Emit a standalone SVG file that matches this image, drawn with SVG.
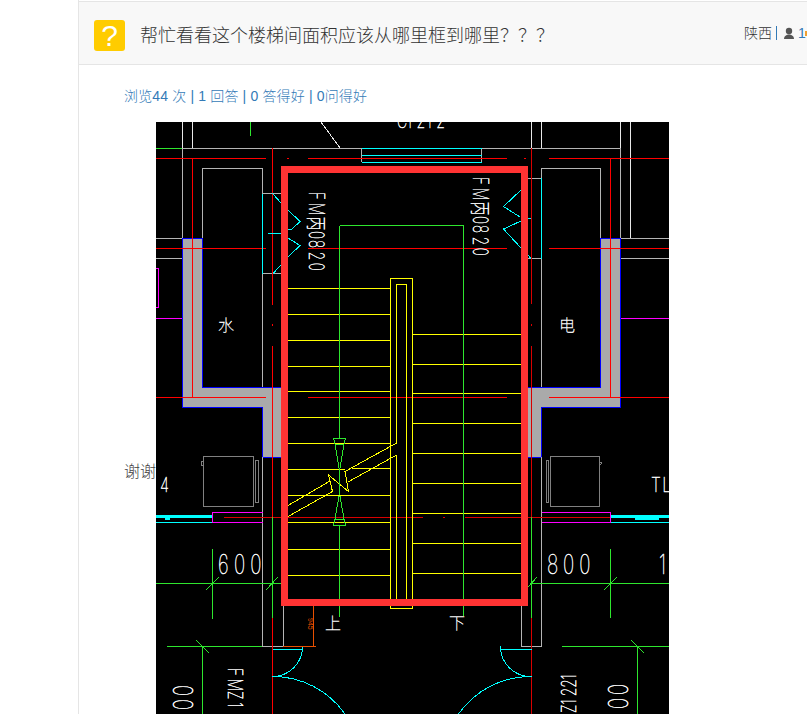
<svg xmlns="http://www.w3.org/2000/svg" width="807" height="714" viewBox="0 0 807 714">
<style>
.ui{font-family:"Liberation Sans","Noto Sans CJK SC",sans-serif;font-weight:300}
.cad{font-family:Inter,"Noto Sans CJK SC",sans-serif;font-weight:100;fill:#fff;stroke:#fff;stroke-width:.5}
.cjk{font-family:"Noto Sans CJK SC",sans-serif;fill:#fff;font-weight:100;stroke:#fff;stroke-width:.3}
.l{fill:none;stroke-width:1;shape-rendering:crispEdges}
.gr{stroke:#b4b4b4}.wh{stroke:#e8e8e8}.re{stroke:#f00}.dr{stroke:#d80000}.ye{stroke:#ff0}.gn{stroke:#2ee62e}.cy{stroke:#0ff}.mg{stroke:#f0f}.ap{stroke:#808080}.or{stroke:#e85000}
</style>
<defs><clipPath id="c"><rect x="156" y="122" width="513" height="592"/></clipPath></defs>
<rect width="807" height="714" fill="#fff"/>
<g id="header">
<rect x="79" y="1" width="728" height="64" fill="#f8f8f8"/>
<path d="M78.500 0V714M79 1.500H807M79 64.500H807" fill="none" stroke="#e5e5e5"/>
<rect x="94" y="20" width="31" height="31" rx="3" fill="#fc0"/>
<text x="109.500" y="46" text-anchor="middle" font-size="30" fill="#fff" font-family="Liberation Sans,sans-serif">?</text>
<text x="140" y="42" font-size="18" fill="#333" font-family="Noto Sans CJK SC,sans-serif" font-weight="300">帮忙看看这个楼梯间面积应该从哪里框到哪里？？？</text>
<text class="ui" x="744" y="38" font-size="14" fill="#333">陕西</text>
<rect x="776" y="26" width="1" height="14" fill="#337ab7"/>
<circle cx="789" cy="31" r="3.200" fill="#555"/>
<path d="M784 39c0-6 10-6 10 0z" fill="#555"/>
<text x="798" y="38" font-size="14" fill="#337ab7" font-family="Liberation Sans,sans-serif">1</text>
<rect x="805" y="31" width="2" height="5" fill="#f0a030"/>
</g>
<text id="stats" class="ui" x="124" y="101" font-size="14" fill="#337ab7" textLength="243" lengthAdjust="spacing">浏览44 次 | 1 回答 | 0 答得好 | 0问得好</text>
<text id="thanks" class="ui" x="124" y="477" font-size="16" fill="#444">谢谢</text>
<g id="drawing" clip-path="url(#c)">
<rect x="156" y="122" width="513" height="592" fill="#000"/>
<g id="walls" fill="#aaa" stroke="#00f" shape-rendering="crispEdges">
<path d="M182.500 238.500H202.500V387.500H283V457.500H262.500V407.500H182.500Z"/>
<path d="M620.500 238.500H600.500V387.500H526V457.500H541.500V407.500H620.500Z"/>
</g>
<g id="lines" class="l">
<path class="wh" d="M182.500 122V148M192.500 122V148M531.500 122V148M541.500 122V148M620.500 122V148M630.500 122V238M321 122L340 148"/>
<path class="gn" d="M250.500 122V136"/>
<path class="gr" d="M182.500 238V148.500H361.500V162M481.500 162V148.500H620.500V238M620.500 238.500H669M620.500 258.500H669M156 238.500H182M156 258.500H182M202.500 238V168.500H262.500V387M541.500 387V168.500H600.500V238M262.500 193.500H282M262.500 273.500H282M528 178.500H541.500M528 258.500H541.500M262.500 457V646.500H283V606M521 606V646.500H541.500V457"/>
<path class="gn" d="M156 148.500H182"/>
<path class="cy" d="M361.500 148.500H481.500M361.500 155.500H481.500M361.500 162.500H481.500"/>
<path class="re" d="M156 158.500H266M287 158.500H289M308 158.500H507M524 158.500H526M549 158.500H669M156 248.500H266M308 248.500H507M549 248.500H669M156 397.500H266M308 397.500H507M549 397.500H669M192.500 158V397M610.500 158V397M272.500 148V305M272.500 324V326M272.500 346V517M272.500 618V714"/>
<path class="dr" d="M531.500 148V304M531.500 324V326M531.500 346V517M531.500 618V714M224 517.500H423M443 517.500H445M465 517.500H610"/>
<path class="cy" d="M262.500 193.500V273.500M272.500 193.500L281 203M288 210L300 221.500L292 229H288M268 233.500H281M288 238L300 245.500L288 257M281 265L273 273.500M541.500 178V258.500M528 185L521 190L503.500 206.500L520 217M521 218.500H531M521 221L503.500 229L521 248M528 255L531 258.500"/>
<path class="mg" d="M156 318.500H182M156 268.500H158V307.500H156M620.500 318.500H669M262.500 512.500H212.500V522.500H262.500M541.500 512.500H610.500V522.500H541.500"/>
<path class="cy" d="M156 522.500H212M610.500 522.500H669"/>
<path class="cy" stroke-width="2.500" d="M156 516.500H212M610.500 516.500H669"/>
<path class="cy" stroke-width="2" d="M165 518.500H170M635 518.500H659"/>
<path class="ap" d="M203.500 456.500H253.500V506.500H203.500ZM255.500 460.500H258V502.500H255.500ZM203 461.500H201V465H203M550.500 456.500H599.500V506.500H550.500ZM546.500 460.500H548.500V502.500H546.500ZM600 462L602 463L600 465"/>
<path class="gn" d="M272.500 517V618M531.500 517V618M156 583.500H282M531 583.500H669M212.500 549V619M610.500 549V618M206 590L219 577M266 590L278 577M528 587L537 577M604 590L617 577M167 646.500H262M202.500 646V714M196 640L209 653M562 646.500H669M637.500 646V714M631 640L644 653"/>
<path class="or" d="M313.500 606V646.500H283M313.500 646.500H316"/>
<path class="cy" d="M272.500 649.500H302.500V646.500A30 30 0 0 1 272.500 676.500A88 88 0 0 1 345 714M531.500 649.500H500.500V646.500A30 30 0 0 0 531.500 676.500A88 88 0 0 0 458.500 714"/>
</g>
<g id="stairs" class="l">
<path class="ye" d="M288 288.500H390M288 314.500H390M288 340.500H390M288 366.500H390M288 391.500H390M288 417.500H390M288 443.500H390M288 469.500H345M352 468.500H390M288 495.500H390M288 522.500H390M288 549.500H390M288 575.500H390M413 334.500H521M413 364.500H521M413 393.500H521M413 423.500H521M413 453.500H521M413 483.500H521M413 513.500H521M413 543.500H521M413 573.500H521"/>
<path class="ye" d="M390.500 608.500V278.500H412.500V608.500ZM396.500 443V284.500H406.500V600M396.500 455V600"/>
<path class="ye" d="M396.500 443L345 471.500L348.500 491.500L328.500 475L332.500 491.500L288 516.500M330 481L288 505.500M396.500 455L348 482"/>
<path class="gn" d="M339.500 225.500H463.500V616M339.500 225.500V438M339.500 469V495M339.500 526V617"/>
<path class="gn" d="M333.500 438.500H345.500L344 444H335ZM335 444L339 468H340L344 444M333.500 525.500H345.500L344 519H335ZM335 519L339 496H340L344 519"/>
</g>
<g id="labels">
<text class="cad" transform="translate(397 128) scale(.7 1)" font-size="20" x="0 14 28 42 56">C1212</text>
<text class="cad" transform="translate(309 192) rotate(90) scale(.65 1)" font-size="21" x="0 17 38 60 74 92 109">FM丙0820</text>
<text class="cad" transform="translate(473 177) rotate(90) scale(.65 1)" font-size="21" x="0 17 38 60 74 92 109">FM丙0820</text>
<text class="cjk" x="218" y="331" font-size="16">水</text>
<text class="cjk" x="559" y="331" font-size="16">电</text>
<text class="cjk" x="325" y="629" font-size="16">上</text>
<text class="cjk" x="449" y="629" font-size="16">下</text>
<text class="cad" transform="translate(160 492) scale(.75 1)" font-size="20">4</text>
<text class="cad" transform="translate(651 492) scale(.8 1)" font-size="20" x="0 14">TL</text>
<text class="cad" transform="translate(218 574) scale(.7 1)" font-size="27" x="0 23 46">600</text>
<text class="cad" transform="translate(547 574) scale(.7 1)" font-size="27" x="0 23 46">800</text>
<text class="cad" transform="translate(659 574) scale(.7 1)" font-size="27">1</text>
<text class="cad" transform="translate(173 685) rotate(90) scale(.7 1)" font-size="27" x="0 20">00</text>
<text class="cad" transform="translate(628 709) rotate(-90) scale(.7 1)" font-size="27" x="0 20">00</text>
<text class="cad" transform="translate(228 668) rotate(90) scale(.7 1)" font-size="20" x="0 15 33 49">FMZ1</text>
<text class="cad" transform="translate(576 713) rotate(-90) scale(.7 1)" font-size="20" x="0 12 24 36 48">Z1221</text>
<text transform="translate(308 618) rotate(90)" font-size="7" fill="#e85000" font-family="Liberation Sans,sans-serif">945</text>
</g>
<rect id="frame" x="284.500" y="169.500" width="240" height="433" fill="none" stroke="#f33" stroke-width="7"/>
</g>
</svg>
